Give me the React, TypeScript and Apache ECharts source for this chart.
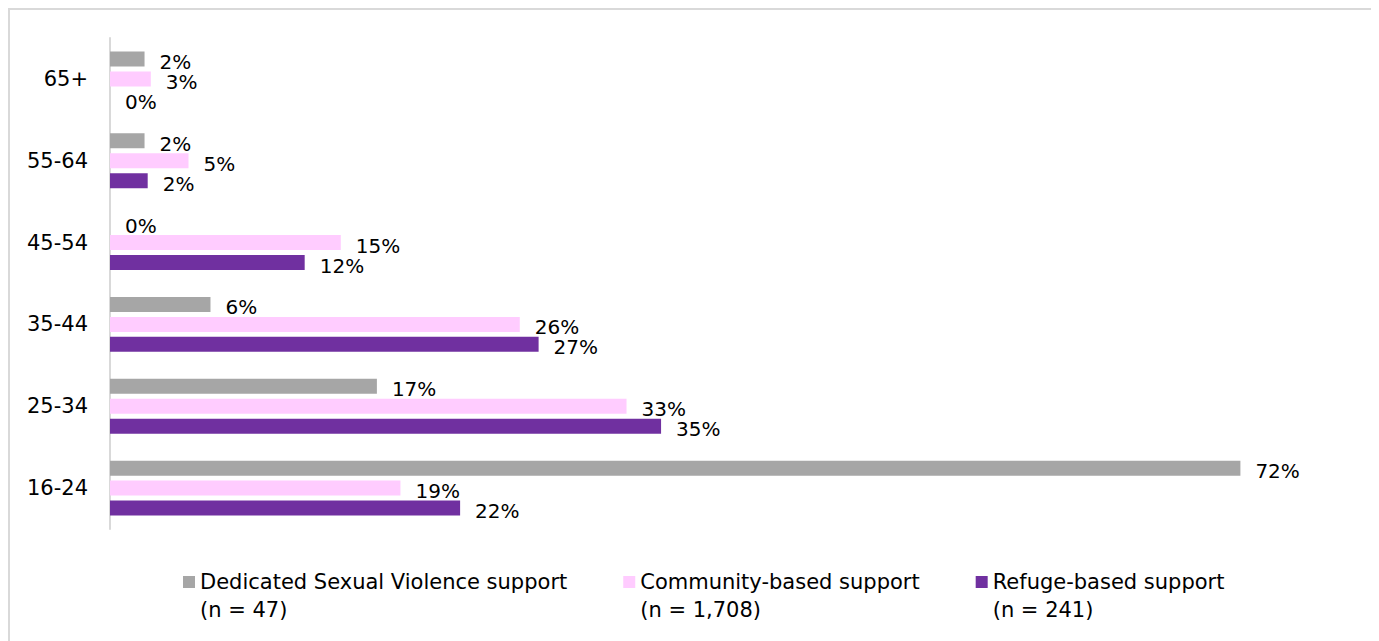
import React, { useEffect, useRef } from "react";
import * as echarts from "echarts";

const categories = ["65+", "55-64", "45-54", "35-44", "25-34", "16-24"];
const seriesNames = [
  "Dedicated Sexual Violence support",
  "Community-based support",
  "Refuge-based support",
];
const sampleSizes = ["(n = 47)", "(n = 1,708)", "(n = 241)"];
const dedicated = [2.2, 2.2, 0, 6.4, 17.0, 72.0];
const community = [2.6, 5.0, 14.7, 26.1, 32.9, 18.5];
const refuge = [0, 2.4, 12.4, 27.3, 35.1, 22.3];
const colors = ["#a6a6a6", "#ffccff", "#7030a0"];

const FONT = "DejaVu Sans";

export default function App() {
  const ref = useRef<HTMLDivElement>(null);
  useEffect(() => {
    if (!ref.current) return;
    const prevOverflow = document.body.style.overflow;
    document.body.style.overflow = "hidden";
    const chart = echarts.init(ref.current, null, { renderer: "svg" });
    const values = [dedicated, community, refuge];
    const nameMap: Record<string, string> = {};
    seriesNames.forEach((n, i) => (nameMap[n] = sampleSizes[i]));
    chart.setOption({
      animation: false,
      grid: { left: 100, top: 28, width: 1256, height: 491 },
      xAxis: {
        type: "value",
        min: 0,
        max: 80,
        show: false,
      },
      yAxis: {
        type: "category",
        data: categories,
        inverse: true,
        axisLine: { show: true, lineStyle: { color: "#d9d9d9", width: 2 } },
        axisTick: { show: false },
        axisLabel: {
          color: "#000",
          fontFamily: FONT,
          fontSize: 21,
          margin: 22,
        },
      },
      legend: {
        left: 168,
        top: 525,
        itemWidth: 12,
        itemHeight: 12,
        itemGap: 56,
        icon: "rect",
        data: seriesNames,
        formatter: (name: string) => " \n" + name + "\n" + nameMap[name],
        textStyle: {
          color: "#000",
          fontFamily: FONT,
          fontSize: 21,
          lineHeight: 28,
        },
      },
      series: seriesNames.map((name, i) => ({
        name,
        type: "bar",
        data: values[i],
        barWidth: 15,
        barGap: "33%",
        itemStyle: { color: colors[i] },
        label: {
          show: true,
          position: "right",
          distance: 15,
          color: "#000",
          fontFamily: FONT,
          fontSize: 20,
          lineHeight: 18,
          offset: [0, 3],
          formatter: (p: any) => Math.round(p.value) + "%",
        },
      })),
    });
    return () => {
      chart.dispose();
      document.body.style.overflow = prevOverflow;
    };
  }, []);
  return (
    <div
      style={{
        width: 1371,
        height: 640,
        borderTop: "2px solid #d9d9d9",
        borderLeft: "2px solid #d9d9d9",
        boxSizing: "border-box",
      }}
    >
      <div ref={ref} style={{ width: 1369, height: 638 }} />
    </div>
  );
}
